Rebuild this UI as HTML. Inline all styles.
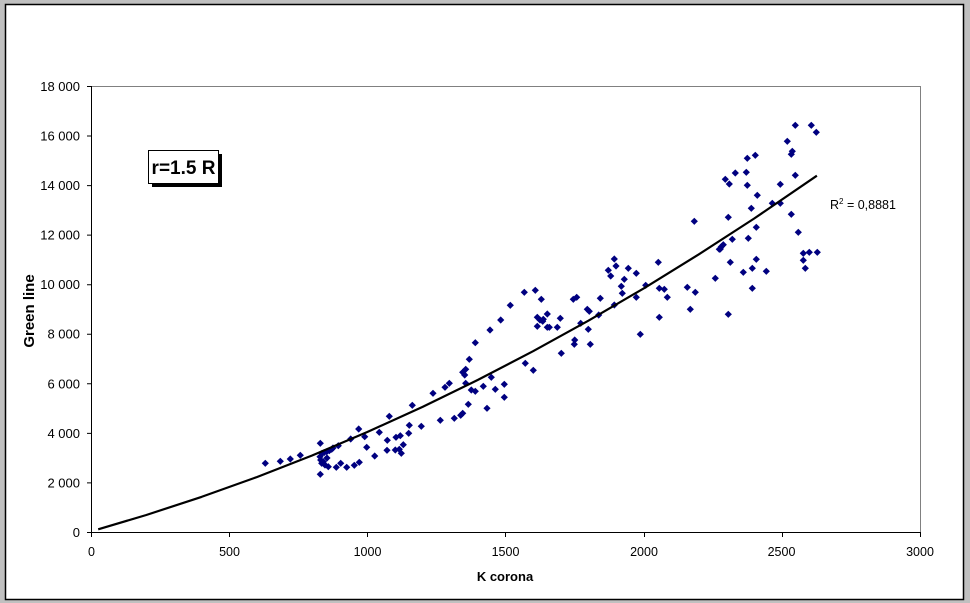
<!DOCTYPE html>
<html><head><meta charset="utf-8"><style>
html,body{margin:0;padding:0;background:#c0c0c0;}
svg{display:block;}
text{font-family:"Liberation Sans",Arial,sans-serif;fill:#000;}
</style></head><body>
<svg width="970" height="603" viewBox="0 0 970 603" xmlns="http://www.w3.org/2000/svg">
<defs><path id="d" d="M0,-3.6 L3.6,0 L0,3.6 L-3.6,0 Z" fill="#000080"/></defs>
<rect x="0" y="0" width="970" height="603" fill="#c0c0c0"/>
<rect x="5.5" y="4.5" width="958" height="595" fill="#fff" stroke="#000" stroke-width="1.5"/>
<!-- plot area -->
<path d="M91,86.5 H920.5 V532" fill="none" stroke="#808080" stroke-width="1"/>
<path d="M91.5,86 V532.5 H920.5" fill="none" stroke="#000" stroke-width="1"/>
<!-- ticks -->
<g stroke="#000" stroke-width="1">
<path d="M87,532.5H91 M87,482.9H91 M87,433.4H91 M87,383.8H91 M87,334.2H91 M87,284.7H91 M87,235.1H91 M87,185.6H91 M87,136H91 M87,86.5H91"/>
<path d="M91.5,532V537 M229.5,532V537 M367.5,532V537 M505.5,532V537 M644.5,532V537 M782.5,532V537 M920.5,532V537"/>
</g>
<g font-size="13" text-anchor="end">
<text x="80" y="537">0</text>
<text x="80" y="487.4">2 000</text>
<text x="80" y="437.9">4 000</text>
<text x="80" y="388.3">6 000</text>
<text x="80" y="338.7">8 000</text>
<text x="80" y="289.2">10 000</text>
<text x="80" y="239.6">12 000</text>
<text x="80" y="190.1">14 000</text>
<text x="80" y="140.5">16 000</text>
<text x="80" y="91">18 000</text>
</g>
<g font-size="12.5" text-anchor="middle">
<text x="91.5" y="556">0</text>
<text x="229.5" y="556">500</text>
<text x="367.5" y="556">1000</text>
<text x="505.5" y="556">1500</text>
<text x="644" y="556">2000</text>
<text x="781.5" y="556">2500</text>
<text x="920" y="556">3000</text>
</g>
<text x="505" y="581" font-size="13" font-weight="bold" text-anchor="middle">K corona</text>
<text transform="translate(34,311) rotate(-90)" font-size="15" font-weight="bold" text-anchor="middle">Green line</text>
<!-- text box -->
<rect x="152" y="154" width="70" height="33" fill="#000"/>
<rect x="148.5" y="150.5" width="70" height="33" fill="#fff" stroke="#000" stroke-width="1"/>
<text x="183.5" y="174" font-size="19" font-weight="bold" text-anchor="middle">r=1.5 R</text>
<!-- R2 label -->
<text x="830" y="209" font-size="12.5">R<tspan font-size="8" dy="-5">2</tspan><tspan dy="5"> = 0,8881</tspan></text>
<!-- points -->
<g>
<use href="#d" x="265.3" y="463.3"/><use href="#d" x="280.3" y="461.3"/><use href="#d" x="290.3" y="459"/><use href="#d" x="300.3" y="455.3"/>
<use href="#d" x="320.3" y="443.3"/><use href="#d" x="320.3" y="474.3"/><use href="#d" x="322" y="453.3"/><use href="#d" x="324" y="452.7"/><use href="#d" x="326.7" y="451.7"/><use href="#d" x="329.3" y="450.7"/><use href="#d" x="331.7" y="449.3"/><use href="#d" x="320" y="456.7"/><use href="#d" x="320.7" y="460"/><use href="#d" x="321.7" y="463.3"/><use href="#d" x="325" y="465"/><use href="#d" x="328.3" y="466.7"/><use href="#d" x="323.3" y="461.7"/><use href="#d" x="327" y="458"/><use href="#d" x="333" y="448"/>
<use href="#d" x="336.3" y="467.3"/><use href="#d" x="340.7" y="463.3"/><use href="#d" x="346.7" y="467.3"/><use href="#d" x="354.3" y="465.3"/><use href="#d" x="359.3" y="462.3"/><use href="#d" x="338.3" y="445.7"/><use href="#d" x="350.7" y="439"/><use href="#d" x="358.7" y="429"/><use href="#d" x="364.7" y="436.7"/><use href="#d" x="366.7" y="447.3"/><use href="#d" x="374.7" y="456"/>
<use href="#d" x="379.3" y="432.3"/><use href="#d" x="389.3" y="416.3"/><use href="#d" x="387.3" y="440.3"/><use href="#d" x="387" y="450.3"/><use href="#d" x="396" y="437.3"/><use href="#d" x="400.3" y="435.7"/><use href="#d" x="395.3" y="450"/><use href="#d" x="399.3" y="449.3"/><use href="#d" x="403.3" y="444.7"/><use href="#d" x="401.3" y="453.3"/><use href="#d" x="408.7" y="433.3"/><use href="#d" x="409.3" y="425.3"/><use href="#d" x="412.3" y="405.3"/><use href="#d" x="421.3" y="426.3"/><use href="#d" x="433" y="393.3"/><use href="#d" x="440.3" y="420.3"/><use href="#d" x="445" y="387.3"/><use href="#d" x="449.3" y="383.3"/><use href="#d" x="454.3" y="418.3"/><use href="#d" x="460.7" y="415.3"/><use href="#d" x="462.7" y="413.3"/><use href="#d" x="462.7" y="372.3"/><use href="#d" x="465.7" y="369.3"/><use href="#d" x="464.7" y="375"/><use href="#d" x="465.7" y="383.3"/><use href="#d" x="468.3" y="404.3"/><use href="#d" x="469.3" y="359.3"/><use href="#d" x="471.3" y="390"/><use href="#d" x="475.3" y="391.3"/><use href="#d" x="475.3" y="342.7"/><use href="#d" x="483.3" y="386.3"/><use href="#d" x="487" y="408.3"/><use href="#d" x="490" y="330"/><use href="#d" x="491.3" y="377.3"/><use href="#d" x="495.3" y="389.3"/><use href="#d" x="504.3" y="384.3"/><use href="#d" x="504.3" y="397.3"/>
<use href="#d" x="500.7" y="320"/><use href="#d" x="510.3" y="305.3"/><use href="#d" x="524.3" y="292.3"/><use href="#d" x="535.3" y="290.3"/><use href="#d" x="541.3" y="299.3"/><use href="#d" x="537.3" y="317.3"/><use href="#d" x="540" y="320"/><use href="#d" x="543.3" y="319.3"/><use href="#d" x="542.7" y="321.3"/><use href="#d" x="547.3" y="314"/><use href="#d" x="537.3" y="326.3"/><use href="#d" x="547.3" y="327.3"/><use href="#d" x="549.3" y="327.3"/><use href="#d" x="557.3" y="327.3"/><use href="#d" x="560.3" y="318.3"/><use href="#d" x="525.3" y="363.3"/><use href="#d" x="533.3" y="370.3"/><use href="#d" x="561.3" y="353.3"/><use href="#d" x="573.3" y="299.3"/><use href="#d" x="576.7" y="297.3"/><use href="#d" x="574.7" y="340"/><use href="#d" x="574.3" y="344.3"/><use href="#d" x="580.7" y="323.3"/><use href="#d" x="587.3" y="309.3"/><use href="#d" x="589.3" y="311.3"/><use href="#d" x="588.3" y="329.3"/><use href="#d" x="590.3" y="344.3"/><use href="#d" x="598.7" y="315"/><use href="#d" x="600.3" y="298.3"/><use href="#d" x="614.3" y="259"/><use href="#d" x="616" y="266"/><use href="#d" x="608.3" y="270.3"/><use href="#d" x="610.7" y="276"/><use href="#d" x="628.3" y="268.3"/><use href="#d" x="636.3" y="273.3"/><use href="#d" x="624.3" y="279.3"/><use href="#d" x="621.3" y="286.3"/><use href="#d" x="622.3" y="293.3"/><use href="#d" x="614.3" y="305"/><use href="#d" x="636.3" y="297.3"/><use href="#d" x="645.7" y="285.3"/><use href="#d" x="658.3" y="262.3"/><use href="#d" x="659.3" y="288.3"/><use href="#d" x="664.3" y="289.3"/><use href="#d" x="667.3" y="297.3"/><use href="#d" x="659.3" y="317.3"/><use href="#d" x="640.3" y="334.3"/><use href="#d" x="687.3" y="287.3"/><use href="#d" x="695.3" y="292.3"/><use href="#d" x="690.3" y="309.3"/><use href="#d" x="715.3" y="278.3"/><use href="#d" x="719.3" y="249.3"/>
<use href="#d" x="694.3" y="221.3"/><use href="#d" x="728.3" y="217.3"/><use href="#d" x="732.3" y="239.3"/><use href="#d" x="730.3" y="262.3"/><use href="#d" x="728.3" y="314.3"/><use href="#d" x="720.3" y="249"/><use href="#d" x="721.3" y="246.7"/><use href="#d" x="723.3" y="244.7"/><use href="#d" x="725.3" y="179.3"/><use href="#d" x="729.3" y="184"/><use href="#d" x="735.3" y="173"/><use href="#d" x="746.3" y="172.3"/><use href="#d" x="747.3" y="185.3"/><use href="#d" x="747.3" y="158.3"/><use href="#d" x="755.3" y="155.3"/><use href="#d" x="757.3" y="195.3"/><use href="#d" x="751.3" y="208.3"/><use href="#d" x="756.3" y="227.3"/><use href="#d" x="748.3" y="238.3"/><use href="#d" x="756.3" y="259.3"/><use href="#d" x="752.3" y="268.3"/><use href="#d" x="743.3" y="272.3"/><use href="#d" x="766.3" y="271.3"/><use href="#d" x="752.3" y="288.3"/><use href="#d" x="772.3" y="203.3"/><use href="#d" x="780.3" y="203.3"/><use href="#d" x="780.3" y="184.3"/><use href="#d" x="787.3" y="141.3"/><use href="#d" x="795.3" y="125.3"/><use href="#d" x="792.3" y="151.3"/><use href="#d" x="791.3" y="154.3"/><use href="#d" x="795.3" y="175.3"/><use href="#d" x="791.3" y="214.3"/><use href="#d" x="798.3" y="232.3"/><use href="#d" x="811.3" y="125.3"/><use href="#d" x="816.3" y="132.3"/><use href="#d" x="803.3" y="253.3"/><use href="#d" x="809.3" y="252.3"/><use href="#d" x="817.3" y="252.3"/><use href="#d" x="803.3" y="260.3"/><use href="#d" x="805.3" y="268.3"/>
</g>
<!-- trendline -->
<polyline fill="none" stroke="#000" stroke-width="2.2" stroke-linejoin="round" points="98.2,529.3 146.3,515 201.5,496.9 256.8,477.1 312.1,455.5 367.3,432 422.6,406.9 477.9,379.9 533.1,351.2 588.4,320.7 643.7,288.4 698.9,254.3 754.2,218.5 816.9,175.7"/>
</svg>
</body></html>
